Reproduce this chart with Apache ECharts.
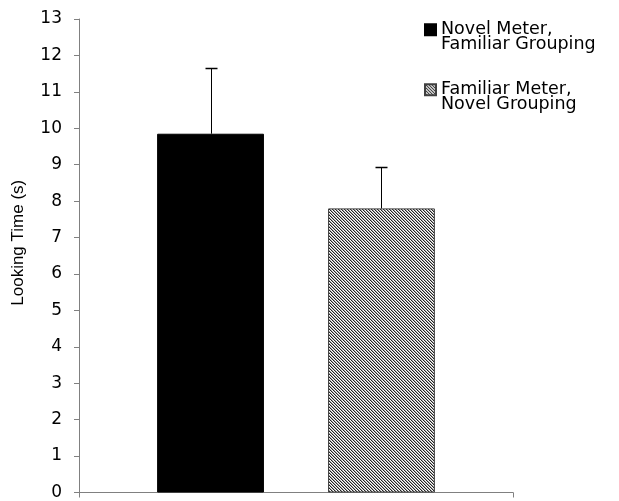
<!DOCTYPE html>
<html>
<head>
<meta charset="utf-8">
<script src="https://cdn.jsdelivr.net/npm/echarts@6/dist/echarts.min.js"></script>
<style>html,body{margin:0;padding:0;background:#fff}#c{width:619px;height:501px}</style>
</head>
<body>
<div id="c"></div>
<script>
const categories = ['Test'];
const seriesNames = ['Novel Meter,\nFamiliar Grouping', 'Familiar Meter,\nNovel Grouping'];
const meanValues = [9.85, 7.8];
const errorTops = [11.65, 8.93];
const yTicks = [0, 13, 1];

function makeHatch() {
  const c = document.createElement('canvas');
  c.width = 6; c.height = 6;
  const ctx = c.getContext('2d');
  for (let y = 0; y < 6; y++) {
    for (let x = 0; x < 6; x++) {
      const d = (((x - y) % 3) + 3) % 3;
      ctx.fillStyle = d === 0 ? '#222' : (d === 1 ? '#aaa' : '#fff');
      ctx.fillRect(x, y, 1, 1);
    }
  }
  return c;
}
const hatch = makeHatch();

const chart = echarts.init(document.getElementById('c'), null, {renderer: 'canvas'});
const BAR_GAP = '60%', CAT_GAP = '36%';

chart.setOption({
  animation: false,
  backgroundColor: '#fff',
  grid: {left: 79, right: 106, top: 19, bottom: 6, containLabel: false},
  legend: {
    data: seriesNames,
    orient: 'vertical',
    left: 424,
    top: 5.7,
    padding: 0,
    itemWidth: 11,
    itemHeight: 11,
    itemGap: 12,
    icon: 'rect',
    formatter: function (name) { return '\n' + name; },
    textStyle: {fontFamily: 'DejaVu Sans', fontSize: 17.5, color: '#000', lineHeight: 15}
  },
  xAxis: {
    type: 'category',
    data: categories,
    axisLine: {lineStyle: {color: '#808080', width: 1}},
    axisTick: {show: true, length: 5, lineStyle: {color: '#808080'}},
    axisLabel: {show: false}
  },
  yAxis: {
    type: 'value',
    min: yTicks[0], max: yTicks[1], interval: yTicks[2],
    name: '{t|Looking Time (s)}',
    nameLocation: 'middle',
    nameGap: 52,
    nameTextStyle: {
      fontFamily: 'Liberation Sans', fontSize: 17, color: '#000',
      rich: {t: {fontFamily: 'Liberation Sans', fontSize: 17, color: '#000', padding: [0, 0, 0, 26]}}
    },
    axisLine: {show: true, lineStyle: {color: '#808080', width: 1}},
    axisTick: {show: true, length: 5, lineStyle: {color: '#808080'}},
    axisLabel: {fontFamily: 'DejaVu Sans', fontSize: 17, color: '#000', margin: 17},
    splitLine: {show: false}
  },
  series: [
    {
      name: seriesNames[0], type: 'bar', data: [meanValues[0]],
      barGap: BAR_GAP, barCategoryGap: CAT_GAP,
      itemStyle: {color: '#000', borderColor: '#000', borderWidth: 1}
    },
    {
      name: seriesNames[1], type: 'bar', data: [meanValues[1]],
      barGap: BAR_GAP, barCategoryGap: CAT_GAP,
      itemStyle: {color: {image: hatch, repeat: 'repeat'}, borderColor: '#404040', borderWidth: 1}
    },
    {
      type: 'custom',
      z: 10,
      silent: true,
      data: meanValues.map((v, i) => [0, v, errorTops[i], i]),
      renderItem: function (params, api) {
        const layout = api.barLayout({count: 2, barGap: BAR_GAP, barCategoryGap: CAT_GAP});
        const idx = api.value(3);
        const base = api.coord([api.value(0), api.value(1)]);
        const top = api.coord([api.value(0), api.value(2)]);
        const x = Math.round(base[0] + layout[idx].offsetCenter) + 0.5;
        const yb = base[1], yt = Math.round(top[1]) + 0.5;
        const half = 6;
        return {
          type: 'group',
          children: [
            {type: 'line', shape: {x1: x, y1: yb, x2: x, y2: yt}, style: {stroke: '#000', lineWidth: 1}},
            {type: 'line', shape: {x1: x - half, y1: yt, x2: x + half, y2: yt}, style: {stroke: '#000', lineWidth: 1.5}}
          ]
        };
      }
    }
  ]
});
</script>
</body>
</html>
